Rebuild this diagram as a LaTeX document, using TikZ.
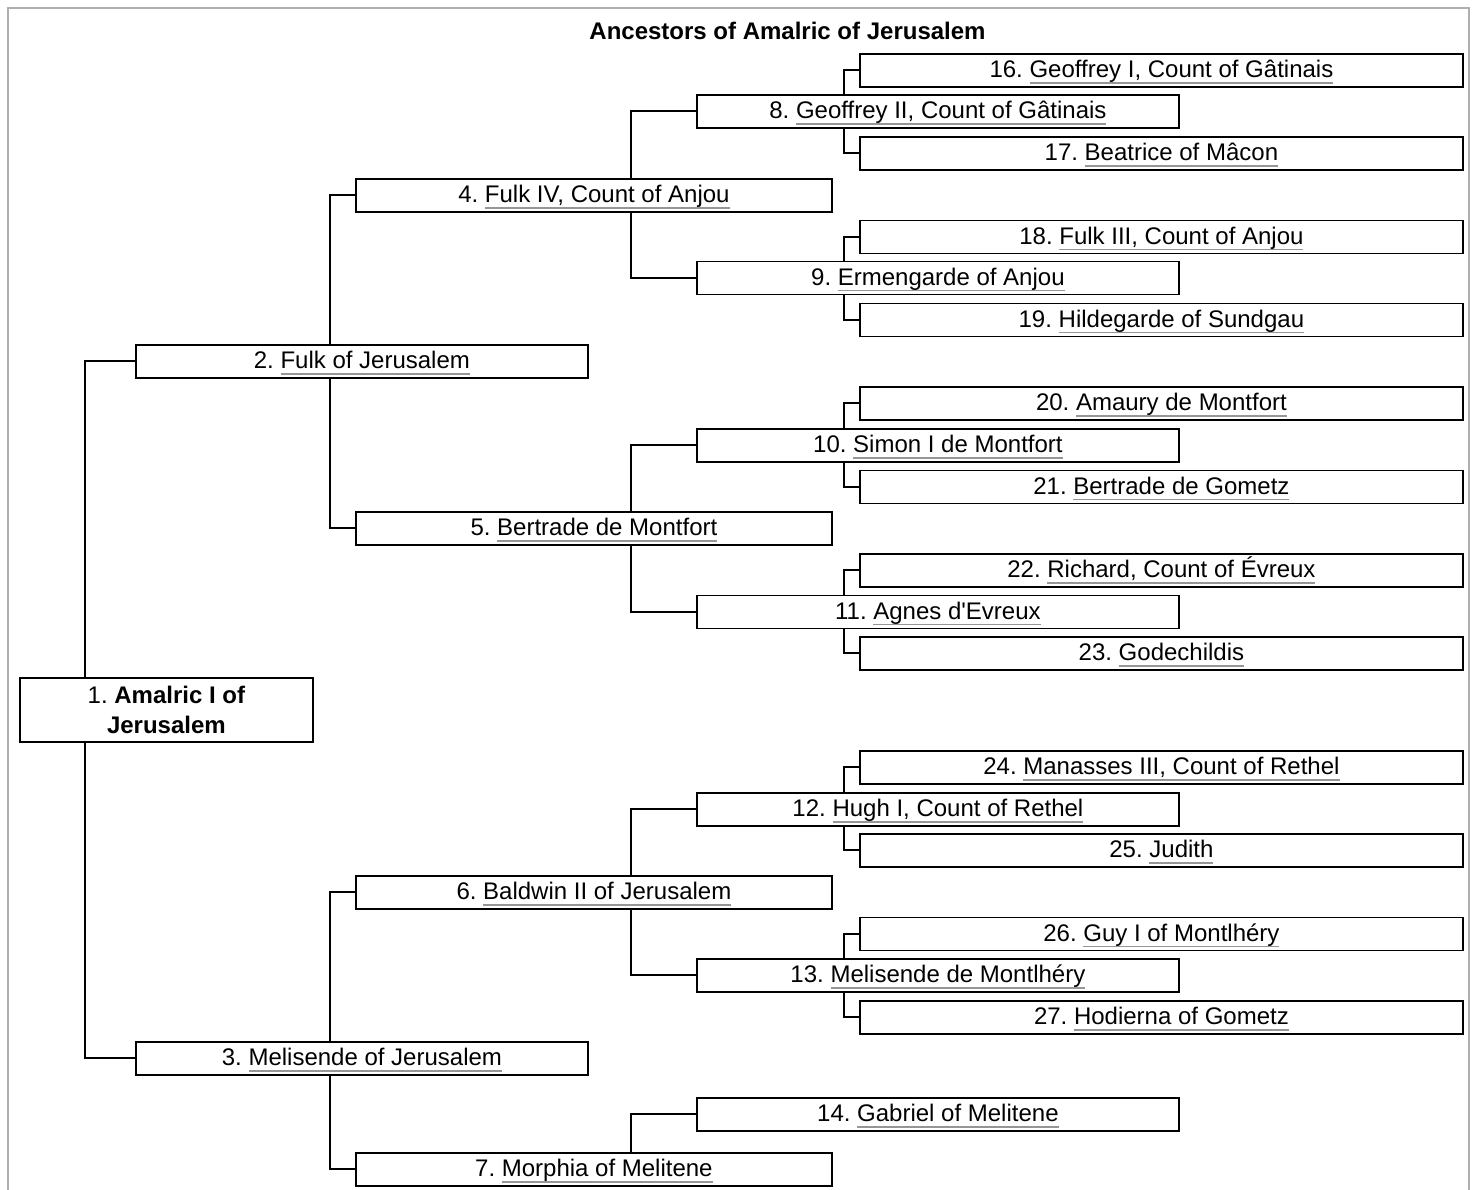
\documentclass[tikz,border=0pt]{standalone}
\usepackage{fontspec}
\setmainfont{Liberation Sans}
\frenchspacing
\definecolor{ulgray}{RGB}{150,150,150}
\definecolor{framegray}{RGB}{175,175,175}
\newcommand\lk[1]{\setbox0\hbox{#1}\rlap{\color{ulgray}\rule[-3pt]{\wd0}{0.9pt}}\box0}
\newcommand\fs{\fontsize{12}{15}\selectfont\frenchspacing}
\begin{document}
\begin{tikzpicture}[x=0.5pt,y=-0.5pt,
  person/.style={draw, line width=0.9pt, inner sep=0pt, minimum height=16.5pt,
    text height=12pt, text depth=4.5pt, font=\fs, anchor=north west},
  g5/.style={person, minimum width=301.5pt},
  g4/.style={person, minimum width=241pt},
  g3/.style={person, minimum width=238pt},
  g2/.style={person, minimum width=226pt},
  conn/.style={line width=1pt}]
\useasboundingbox (0,0) rectangle (1475,1189);
\draw[framegray, line width=1pt] (8,8) rectangle (1469,1210);
\node[font=\fs\bfseries, anchor=base] (title) at (787.5,39) {Ancestors of Amalric of Jerusalem};
% generation 1
\node[draw, line width=0.9pt, inner sep=0pt, minimum width=146.5pt, minimum height=32pt,
  align=center, font=\fs, anchor=north west] (n1) at (19,677) {1. \textbf{Amalric I of}\\\textbf{Jerusalem}};
% generation 2
\node[g2] (n2) at (135,344) {2. \lk{Fulk of Jerusalem}};
\node[g2] (n3) at (135,1041) {3. \lk{Melisende of Jerusalem}};
% generation 3
\node[g3] (n4) at (355,178) {4. \lk{Fulk IV, Count of Anjou}};
\node[g3] (n5) at (355,511) {5. \lk{Bertrade de Montfort}};
\node[g3] (n6) at (355,875) {6. \lk{Baldwin II of Jerusalem}};
\node[g3] (n7) at (355,1152) {7. \lk{Morphia of Melitene}};
% generation 4
\node[g4] (n8) at (696,94) {8. \lk{Geoffrey II, Count of Gâtinais}};
\node[g4] (n9) at (696,260.5) {9. \lk{Ermengarde of Anjou}};
\node[g4] (n10) at (696,428) {10. \lk{Simon I de Montfort}};
\node[g4] (n11) at (696,594.5) {11. \lk{Agnes d\textquotesingle Evreux}};
\node[g4] (n12) at (696,792) {12. \lk{Hugh I, Count of Rethel}};
\node[g4] (n13) at (696,958) {13. \lk{Melisende de Montlhéry}};
\node[g4] (n14) at (696,1097) {14. \lk{Gabriel of Melitene}};
% generation 5
\node[g5] (n16) at (859,53) {16. \lk{Geoffrey I, Count of Gâtinais}};
\node[g5] (n17) at (859,136) {17. \lk{Beatrice of Mâcon}};
\node[g5] (n18) at (859,219.5) {18. \lk{Fulk III, Count of Anjou}};
\node[g5] (n19) at (859,302.5) {19. \lk{Hildegarde of Sundgau}};
\node[g5] (n20) at (859,386) {20. \lk{Amaury de Montfort}};
\node[g5] (n21) at (859,469.5) {21. \lk{Bertrade de Gometz}};
\node[g5] (n22) at (859,553) {22. \lk{Richard, Count of Évreux}};
\node[g5] (n23) at (859,636) {23. \lk{Godechildis}};
\node[g5] (n24) at (859,750) {24. \lk{Manasses III, Count of Rethel}};
\node[g5] (n25) at (859,833) {25. \lk{Judith}};
\node[g5] (n26) at (859,916.5) {26. \lk{Guy I of Montlhéry}};
\node[g5] (n27) at (859,1000) {27. \lk{Hodierna of Gometz}};
% connector columns
\coordinate (k1) at (85,0);
\coordinate (k2) at (330,0);
\coordinate (k3) at (631,0);
\coordinate (k4) at (844,0);
% connectors
\draw[conn] (n1.north -| k1) |- (n2.west);
\draw[conn] (n1.south -| k1) |- (n3.west);
\draw[conn] (n2.north -| k2) |- (n4.west);
\draw[conn] (n2.south -| k2) |- (n5.west);
\draw[conn] (n3.north -| k2) |- (n6.west);
\draw[conn] (n3.south -| k2) |- (n7.west);
\draw[conn] (n4.north -| k3) |- (n8.west);
\draw[conn] (n4.south -| k3) |- (n9.west);
\draw[conn] (n5.north -| k3) |- (n10.west);
\draw[conn] (n5.south -| k3) |- (n11.west);
\draw[conn] (n6.north -| k3) |- (n12.west);
\draw[conn] (n6.south -| k3) |- (n13.west);
\draw[conn] (n7.north -| k3) |- (n14.west);
\draw[conn] (n8.north -| k4) |- (n16.west);
\draw[conn] (n8.south -| k4) |- (n17.west);
\draw[conn] (n9.north -| k4) |- (n18.west);
\draw[conn] (n9.south -| k4) |- (n19.west);
\draw[conn] (n10.north -| k4) |- (n20.west);
\draw[conn] (n10.south -| k4) |- (n21.west);
\draw[conn] (n11.north -| k4) |- (n22.west);
\draw[conn] (n11.south -| k4) |- (n23.west);
\draw[conn] (n12.north -| k4) |- (n24.west);
\draw[conn] (n12.south -| k4) |- (n25.west);
\draw[conn] (n13.north -| k4) |- (n26.west);
\draw[conn] (n13.south -| k4) |- (n27.west);
\end{tikzpicture}
\end{document}
